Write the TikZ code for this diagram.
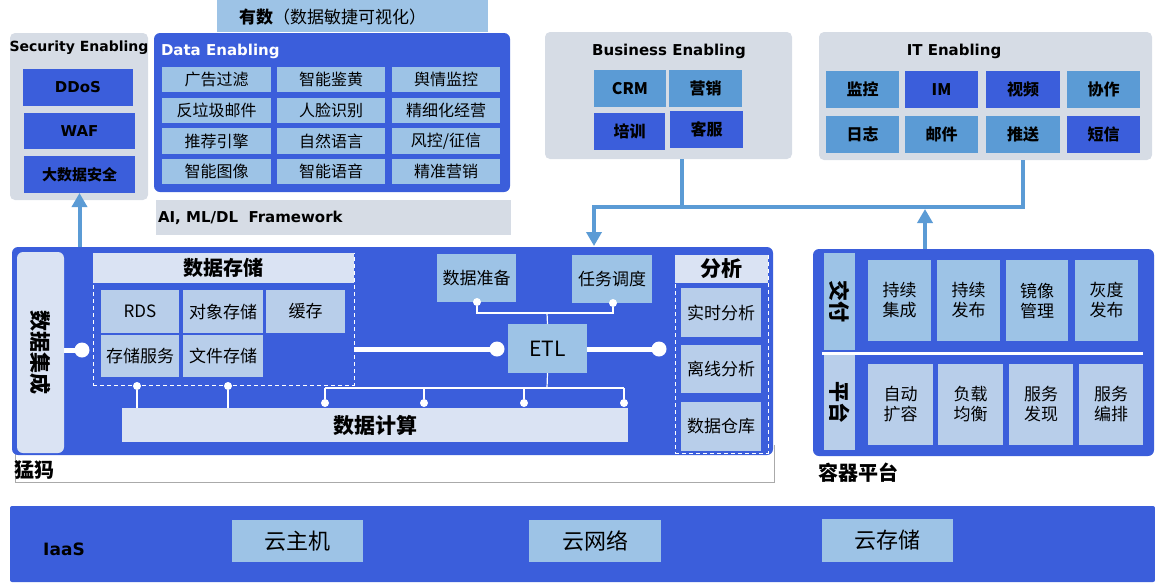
\documentclass[tikz,border=0pt]{standalone}
\usepackage{fontspec}
\setmainfont{Noto Sans CJK SC}
\newfontfamily\lat{DejaVu Sans}
\usetikzlibrary{arrows.meta}
\definecolor{mainblue}{RGB}{59,94,219}
\definecolor{panelgray}{RGB}{214,220,229}
\definecolor{lightfill}{RGB}{218,227,243}
\definecolor{midblue}{RGB}{157,195,230}
\definecolor{softblue}{RGB}{184,206,234}
\definecolor{arrowblue}{RGB}{91,155,213}
\definecolor{framegray}{RGB}{170,170,170}
\newcommand\fsz[2]{\fontsize{#1}{#2}\selectfont}
\newcommand\mybox[7]{%
  \pgfmathsetmacro\myw{#4-#2}\pgfmathsetmacro\myh{#5-#3}%
  \node[anchor=north west, minimum width=\myw pt, minimum height=\myh pt, align=center, #6] (#1) at (#2,#3) {#7};}
\begin{document}
\begin{tikzpicture}[x=1pt,y=-1pt,
  every node/.style={inner sep=0pt, outer sep=0pt},
  grpanel/.style={fill=panelgray, rounded corners=5pt},
  bluepanel/.style={fill=mainblue, rounded corners=6pt},
  dkbox/.style={fill=mainblue, font=\bfseries\fsz{16}{18}},
  mdbox/.style={fill=arrowblue, font=\bfseries\fsz{16}{18}},
  dcell/.style={fill=midblue, font=\fsz{16}{18}},
  mcell/.style={fill=midblue, font=\fsz{17}{20}},
  scell/.style={fill=softblue, font=\fsz{17}{20}},
  lightbox/.style={fill=lightfill},
  head/.style={fill=lightfill, font=\bfseries\fsz{20}{20}},
  ltitle/.style={font=\lat\bfseries\fsz{15}{15}},
  bigdot/.style={circle, fill=white, minimum size=15pt},
  smalldot/.style={circle, fill=white, minimum size=8pt},
  thickw/.style={white, line width=5pt},
  thinw/.style={white, line width=1.2pt},
  dashw/.style={draw=white, line width=0.9pt, dash pattern=on 4pt off 3pt},
  aline/.style={arrowblue, line width=4pt},
  atip/.style={-{Triangle[length=14pt,width=15pt]}},
  vtext/.style={rotate=-90, font=\bfseries\fsz{21}{21}}
]
\useasboundingbox (0,0) rectangle (1155,582);

% ---------------- top row ----------------
\mybox{sec}{10}{33}{148}{200}{grpanel}{}
\node[font=\lat\bfseries\fsz{14}{14}] (sect) at (79,48) {Security Enabling};
\mybox{ddos}{23}{69}{133}{106}{dkbox, font=\lat\bfseries\fsz{15}{15}}{DDoS}
\mybox{waf}{24}{113}{135}{149}{dkbox, font=\lat\bfseries\fsz{15}{15}}{WAF}
\mybox{dsa}{24}{156}{135}{193}{dkbox, font=\bfseries\fsz{15}{15}}{大数据安全}

\mybox{ys}{217}{0}{488}{32}{fill=midblue}{}
\node[anchor=west, font=\fsz{17}{18}] (yst) at (239,17) {\textbf{有数}（数据敏捷可视化）};

\mybox{de}{154}{33}{510}{192}{bluepanel}{}
\node[anchor=west, ltitle, text=white] (det) at (161,51) {Data\ Enabling};
\mybox{c11}{162}{67}{271}{92}{dcell}{广告过滤}
\mybox{c12}{277}{67}{385}{92}{dcell}{智能鉴黄}
\mybox{c13}{392}{67}{500}{92}{dcell}{舆情监控}
\mybox{c21}{162}{98}{271}{123}{dcell}{反垃圾邮件}
\mybox{c22}{277}{98}{385}{123}{dcell}{人脸识别}
\mybox{c23}{392}{98}{500}{123}{dcell}{精细化经营}
\mybox{c31}{162}{128}{271}{154}{dcell}{推荐引擎}
\mybox{c32}{277}{128}{385}{154}{dcell}{自然语言}
\mybox{c33}{392}{128}{500}{154}{dcell}{风控/征信}
\mybox{c41}{162}{159}{271}{184}{dcell}{智能图像}
\mybox{c42}{277}{159}{385}{184}{dcell}{智能语音}
\mybox{c43}{392}{159}{500}{184}{dcell}{精准营销}

\mybox{ai}{156}{200}{511}{235}{fill=panelgray}{}
\node[anchor=west, ltitle] (ait) at (158,218) {AI, ML/DL\ \ Framework};

\mybox{biz}{545}{32}{792}{159}{grpanel}{}
\node[ltitle] (bizt) at (669,51) {Business\ Enabling};
\mybox{crm}{594}{70}{666}{107}{mdbox}{CRM}
\mybox{yx}{669}{70}{742}{107}{mdbox}{营销}
\mybox{px}{594}{113}{665}{150}{dkbox}{培训}
\mybox{kf}{670}{111}{743}{148}{dkbox}{客服}

\mybox{it}{819}{32}{1152}{160}{grpanel}{}
\node[ltitle] (itt) at (954,51) {IT Enabling};
\mybox{jk}{826}{71}{899}{108}{mdbox}{监控}
\mybox{im}{905}{71}{978}{108}{dkbox}{IM}
\mybox{sp}{986}{71}{1060}{108}{dkbox}{视频}
\mybox{xz}{1067}{71}{1140}{108}{mdbox}{协作}
\mybox{rz}{826}{116}{899}{153}{mdbox}{日志}
\mybox{yj}{905}{116}{978}{153}{mdbox}{邮件}
\mybox{ts}{986}{116}{1060}{153}{mdbox}{推送}
\mybox{dx}{1067}{116}{1140}{153}{dkbox}{短信}

% ---------------- middle: 猛犸 ----------------
\draw[framegray, line width=0.8pt] (15,450) -- (15,482) -- (774,482) -- (774,445);
\mybox{mm}{12}{247}{773}{455}{bluepanel}{}
\node[anchor=west, font=\bfseries\fsz{20}{20}] (mml) at (14,470) {猛犸};

\mybox{sjjc}{17}{252}{64}{453}{lightbox, rounded corners=6pt}{}
\node[vtext] (sjjct) at (sjjc.center) {数据集成};

\mybox{stor}{93}{253}{354}{385}{dashw}{}
\mybox{storh}{93}{253}{354}{283}{head}{数据存储}
\mybox{rds}{101}{290}{179}{333}{scell}{RDS}
\mybox{dxcc}{183}{290}{263}{333}{scell}{对象存储}
\mybox{hc}{266}{290}{345}{333}{scell}{缓存}
\mybox{ccfw}{101}{335}{179}{377}{scell}{存储服务}
\mybox{wjcc}{183}{335}{263}{377}{scell}{文件存储}

\mybox{sjzb}{437}{254}{516}{302}{mcell}{数据准备}
\mybox{rwdd}{572}{255}{652}{303}{mcell}{任务调度}
\mybox{etl}{508}{324}{587}{373}{mcell, font=\fsz{21}{21}}{ETL}

\mybox{sjjs}{122}{408}{628}{442}{head, font=\bfseries\fsz{21}{21}}{数据计算}

\mybox{fx}{675}{255}{768}{453}{dashw}{}
\mybox{fxh}{675}{255}{768}{283}{head, font=\bfseries\fsz{21}{21}}{分析}
\mybox{ssfx}{681}{288}{761}{337}{scell}{实时分析}
\mybox{lxfx}{681}{345}{761}{393}{scell}{离线分析}
\mybox{sjck}{681}{402}{761}{451}{scell}{数据仓库}

% thick connectors
\node[bigdot] (d1) at (82,350) {};
\node[bigdot] (d2) at (497,349) {};
\node[bigdot] (d3) at (659,349) {};
\draw[thickw] (sjjc.east |- d1) -- (d1);
\draw[thickw] (stor.east |- d2) -- (d2);
\draw[thickw] (etl.east |- d3) -- (d3);

% thin connectors
\node[smalldot] (sd1) at (477,302) {};
\node[smalldot] (sd2) at (613,303) {};
\coordinate (j1) at (547,313);
\draw[thinw] (sd1) |- (j1) -| (sd2);
\draw[thinw] (j1) -- (etl.north);
\coordinate (j2) at (547,388);
\coordinate (hl) at (325,388);
\coordinate (hr) at (624,388);
\draw[thinw] (etl.south) -- (j2);
\draw[thinw] (hl) -- (hr);
\node[smalldot] (e1) at (325,403) {};
\node[smalldot] (e2) at (424,403) {};
\node[smalldot] (e3) at (524,403) {};
\node[smalldot] (e4) at (624,403) {};
\draw[thinw] (hl) -- (e1);
\draw[thinw] (e2 |- hl) -- (e2);
\draw[thinw] (e3 |- hl) -- (e3);
\draw[thinw] (hr) -- (e4);
\node[smalldot] (s1) at (137,386) {};
\node[smalldot] (s2) at (228,386) {};
\draw[thinw] (s1) -- (s1 |- sjjs.north);
\draw[thinw] (s2) -- (s2 |- sjjs.north);

% ---------------- container platform ----------------
\mybox{rq}{813}{249}{1154}{456}{bluepanel}{}
\mybox{jf}{824}{253}{855}{350}{fill=midblue}{}
\node[vtext] (jft) at (jf.center) {交付};
\draw[white, line width=3pt] (822,353) -- (1143,353);
\mybox{pt}{824}{355}{855}{450}{fill=softblue}{}
\node[vtext] (ptt) at (pt.center) {平台};
\mybox{r11}{868}{260}{931}{341}{mcell}{持续\\集成}
\mybox{r12}{937}{260}{1000}{341}{mcell}{持续\\发布}
\mybox{r13}{1006}{260}{1068}{341}{mcell}{镜像\\管理}
\mybox{r14}{1075}{260}{1138}{341}{mcell}{灰度\\发布}
\mybox{r21}{868}{364}{933}{445}{scell}{自动\\扩容}
\mybox{r22}{938}{364}{1003}{445}{scell}{负载\\均衡}
\mybox{r23}{1009}{364}{1073}{445}{scell}{服务\\发现}
\mybox{r24}{1079}{364}{1143}{445}{scell}{服务\\编排}
\node[anchor=west, font=\bfseries\fsz{20}{20}] (rql) at (818,473) {容器平台};

% ---------------- IaaS ----------------
\mybox{iaas}{10}{506}{1155}{582}{fill=mainblue, rounded corners=2pt}{}
\node[font=\lat\bfseries\fsz{17}{17}] (iaasl) at (64,549) {IaaS};
\mybox{yzj}{232}{520}{363}{562}{mcell, font=\fsz{22}{22}}{云主机}
\mybox{ywl}{529}{520}{661}{562}{mcell, font=\fsz{22}{22}}{云网络}
\mybox{ycc}{822}{519}{953}{562}{mcell, font=\fsz{22}{22}}{云存储}

% ---------------- arrows ----------------
\draw[aline, atip] (dsa.south |- mm.north) -- (dsa.south);
\coordinate (bz) at (682,159);
\coordinate (itz) at (1023,160);
\coordinate (hj) at (682,207);
\coordinate (ad) at (594,246);
\coordinate (au) at (925,209);
\draw[aline] (bz) -- (hj);
\draw[aline, atip] (itz) |- (hj) -| (ad);
\draw[aline, atip] (rq.north -| au) -- (au);
\end{tikzpicture}
\end{document}
